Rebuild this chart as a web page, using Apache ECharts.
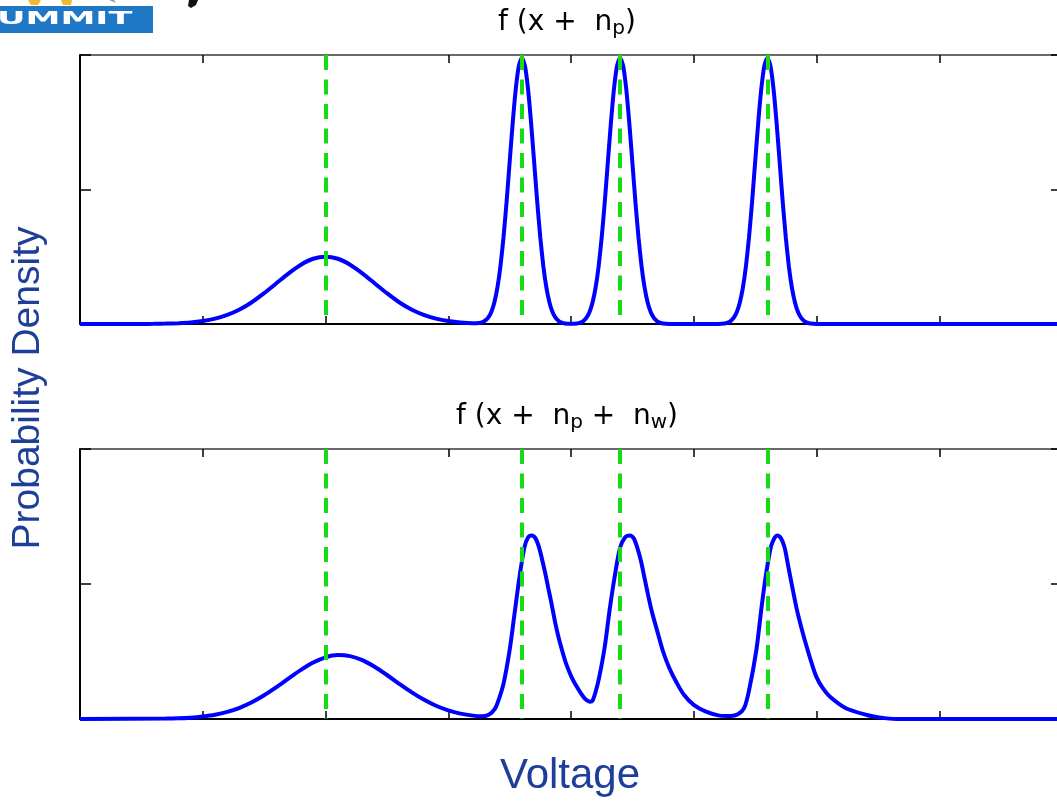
<!DOCTYPE html>
<html>
<head>
<meta charset="utf-8">
<title>Probability Density</title>
<script src="https://cdn.jsdelivr.net/npm/echarts@6/dist/echarts.min.js"></script>
<style>
  html, body { margin: 0; padding: 0; background: #ffffff; }
  #chart { width: 1057px; height: 802px; }
</style>
</head>
<body>
<div id="chart"></div>
<script>
// Density of the received voltage: clean levels (n_p only)
const cleanDensity = [
  [0, 0], [0.5, 0], [0.6, 0.001], [0.7, 0.003], [0.8, 0.006], [0.9, 0.011],
  [1.0, 0.022], [1.1, 0.040], [1.2, 0.068], [1.3, 0.108], [1.4, 0.162], [1.5, 0.229],
  [1.6, 0.303], [1.7, 0.377], [1.8, 0.441], [1.9, 0.485], [2.0, 0.500], [2.1, 0.485],
  [2.2, 0.441], [2.3, 0.377], [2.4, 0.303], [2.5, 0.229], [2.6, 0.162], [2.7, 0.108],
  [2.8, 0.068], [2.9, 0.040], [3.0, 0.022], [3.1, 0.011], [3.2, 0.006],
  [3.25, 0.008], [3.275, 0.013], [3.3, 0.025], [3.325, 0.047], [3.35, 0.088], [3.375, 0.158],
  [3.4, 0.268], [3.425, 0.428], [3.45, 0.643], [3.475, 0.906], [3.5, 1.201], [3.525, 1.494],
  [3.55, 1.747], [3.575, 1.919], [3.6, 1.98], [3.625, 1.919], [3.65, 1.747], [3.675, 1.494],
  [3.7, 1.201], [3.725, 0.906], [3.75, 0.643], [3.775, 0.428], [3.8, 0.268], [3.825, 0.158],
  [3.85, 0.087], [3.875, 0.045], [3.9, 0.022], [3.925, 0.010], [3.95, 0.004], [4.0, 0.001],
  [4.05, 0.004], [4.075, 0.010], [4.1, 0.022], [4.125, 0.045], [4.15, 0.087], [4.175, 0.158],
  [4.2, 0.268], [4.225, 0.428], [4.25, 0.643], [4.275, 0.906], [4.3, 1.201], [4.325, 1.494],
  [4.35, 1.747], [4.375, 1.919], [4.4, 1.98], [4.425, 1.919], [4.45, 1.747], [4.475, 1.494],
  [4.5, 1.201], [4.525, 0.906], [4.55, 0.643], [4.575, 0.428], [4.6, 0.268], [4.625, 0.158],
  [4.65, 0.087], [4.675, 0.045], [4.7, 0.022], [4.725, 0.010], [4.75, 0.004], [4.85, 0],
  [5.15, 0], [5.25, 0.004], [5.275, 0.010], [5.3, 0.022], [5.325, 0.045], [5.35, 0.087],
  [5.375, 0.158], [5.4, 0.268], [5.425, 0.428], [5.45, 0.643], [5.475, 0.906], [5.5, 1.201],
  [5.525, 1.494], [5.55, 1.747], [5.575, 1.919], [5.6, 1.98], [5.625, 1.919], [5.65, 1.747],
  [5.675, 1.494], [5.7, 1.201], [5.725, 0.906], [5.75, 0.643], [5.775, 0.428], [5.8, 0.268],
  [5.825, 0.158], [5.85, 0.087], [5.875, 0.045], [5.9, 0.022], [5.925, 0.010], [5.95, 0.004],
  [6.05, 0], [8, 0]
];

// Density with the additional skewed noise n_w
const noisyDensity = [
  [0, 0], [0.7, 0.003], [0.8, 0.005], [0.9, 0.010], [1.0, 0.019], [1.1, 0.032],
  [1.2, 0.053], [1.3, 0.083], [1.4, 0.124], [1.5, 0.176], [1.6, 0.236], [1.7, 0.301],
  [1.8, 0.364], [1.9, 0.418], [2.0, 0.457], [2.1, 0.474], [2.2, 0.466], [2.3, 0.436],
  [2.4, 0.387], [2.5, 0.326], [2.6, 0.261], [2.7, 0.199], [2.8, 0.144], [2.9, 0.098],
  [3.0, 0.064], [3.1, 0.040], [3.2, 0.025], [3.27, 0.020], [3.33, 0.032], [3.38, 0.075],
  [3.41, 0.14], [3.45, 0.26], [3.50, 0.51], [3.54, 0.78], [3.58, 1.05], [3.62, 1.27],
  [3.65, 1.345], [3.68, 1.36], [3.71, 1.34], [3.74, 1.27], [3.765, 1.18], [3.79, 1.08],
  [3.815, 0.97], [3.84, 0.86], [3.87, 0.72], [3.90, 0.60], [3.93, 0.50], [3.96, 0.41],
  [4.00, 0.32], [4.04, 0.25], [4.10, 0.165], [4.13, 0.138], [4.155, 0.128], [4.175, 0.136],
  [4.20, 0.20], [4.23, 0.31], [4.275, 0.535], [4.315, 0.81], [4.355, 1.05], [4.40, 1.27], [4.44, 1.345],
  [4.48, 1.36], [4.51, 1.34], [4.54, 1.27], [4.57, 1.17], [4.60, 1.04], [4.63, 0.91],
  [4.66, 0.79], [4.70, 0.66], [4.75, 0.50], [4.80, 0.38], [4.86, 0.27], [4.92, 0.18],
  [5.00, 0.105], [5.10, 0.054], [5.21, 0.025],
  [5.30, 0.022], [5.36, 0.035], [5.41, 0.08], [5.45, 0.21], [5.51, 0.51], [5.55, 0.81],
  [5.59, 1.08], [5.63, 1.28], [5.66, 1.345], [5.68, 1.36], [5.71, 1.34], [5.74, 1.27],
  [5.77, 1.13], [5.80, 0.99], [5.84, 0.81], [5.88, 0.665], [5.92, 0.535], [5.96, 0.415],
  [6.00, 0.31], [6.05, 0.23], [6.11, 0.165], [6.24, 0.08],
  [6.41, 0.03], [6.51, 0.012], [6.65, 0], [8, 0]
];

// Nominal signal levels (dashed markers)
const signalLevels = [2, 3.6, 4.4, 5.6];

// Axis ranges
const voltageRange = [0, 8];
const densityRange = [0, 2];

// Panel titles (rich text, subscripts in {s|...})
const panelTitles = ['f (x +  n{s|p})', 'f (x +  n{s|p} +  n{s|w})'];
const yAxisTitle = 'Probability Density';
const xAxisTitle = 'Voltage';

const chart = echarts.init(document.getElementById('chart'), null, { renderer: 'canvas' });

const BLUE = '#0000ff';
const GREEN = '#16dc16';
const LABEL_BLUE = '#1e3f99';

// the right border sits just past the page edge
const grids = [
  { left: 80, width: 982, top: 55, height: 269, outerBoundsMode: 'none', containLabel: false },
  { left: 80, width: 982, top: 449, height: 270, outerBoundsMode: 'none', containLabel: false }
];

function xAxisFor(gridIndex, position) {
  return {
    type: 'value', gridIndex, position,
    min: voltageRange[0], max: voltageRange[1], interval: 1,
    axisLine: { show: true, onZero: false, lineStyle: { color: position === 'top' ? '#3a3a3a' : '#000', width: position === 'top' ? 1.5 : 2 } },
    axisTick: { show: true, inside: true, length: 8, lineStyle: { color: '#000', width: 1.5 } },
    axisLabel: { show: false },
    splitLine: { show: false }
  };
}
function yAxisFor(gridIndex, position) {
  return {
    type: 'value', gridIndex, position,
    min: densityRange[0], max: densityRange[1], interval: 1,
    axisLine: { show: true, onZero: false, lineStyle: { color: '#000', width: 2 } },
    axisTick: { show: true, inside: true, length: 11, lineStyle: { color: '#000', width: 1.5 } },
    axisLabel: { show: false },
    splitLine: { show: false }
  };
}

function densitySeries(data, gridIdx, smooth) {
  return {
    type: 'line',
    xAxisIndex: gridIdx * 2,
    yAxisIndex: gridIdx * 2,
    data,
    smooth,
    showSymbol: false,
    silent: true,
    lineStyle: { color: BLUE, width: 4 },
    markLine: {
      silent: true,
      symbol: 'none',
      label: { show: false },
      lineStyle: { color: GREEN, width: 4, type: [15, 9.5], opacity: 1 },
      data: signalLevels.map(v => [
        { coord: [v, densityRange[1]] },
        { coord: [v, densityRange[0]] }
      ])
    },
    z: 3
  };
}

const titleStyle = {
  fontFamily: 'DejaVu Sans',
  fontSize: 28,
  lineHeight: 32,
  fill: '#000',
  align: 'center',
  verticalAlign: 'middle',
  rich: {
    s: { fontFamily: 'DejaVu Sans', fontSize: 20, lineHeight: 22, verticalAlign: 'bottom', fill: '#000' }
  }
};

chart.setOption({
  animation: false,
  backgroundColor: '#ffffff',
  grid: grids,
  xAxis: [xAxisFor(0, 'bottom'), xAxisFor(0, 'top'), xAxisFor(1, 'bottom'), xAxisFor(1, 'top')],
  yAxis: [yAxisFor(0, 'left'), yAxisFor(0, 'right'), yAxisFor(1, 'left'), yAxisFor(1, 'right')],
  series: [
    densitySeries(cleanDensity, 0, 0.2),
    densitySeries(noisyDensity, 1, 0.3)
  ],
  graphic: [
    // corner logo strip
    { type: 'rect', shape: { x: 0, y: 6, width: 153, height: 27 }, style: { fill: '#1f78c6' }, z: 10 },
    { type: 'text', x: -3, y: 19.5, scaleX: 1.95, scaleY: 1,
      style: { text: 'UMMIT', fontFamily: 'DejaVu Sans', fontWeight: 'bold', fontSize: 18, fill: '#ffffff', align: 'left', verticalAlign: 'middle' }, z: 11 },
    { type: 'polygon', shape: { points: [[28, 0], [41, 0], [38, 5], [31, 5]] }, style: { fill: '#f2b92c' }, z: 10 },
    { type: 'polygon', shape: { points: [[61, 0], [72, 0], [71, 5], [63, 5]] }, style: { fill: '#f2b92c' }, z: 10 },
    { type: 'polygon', shape: { points: [[109, 0], [114, 0], [116, 3]] }, style: { fill: '#9a9a9a' }, z: 10 },
    { type: 'polygon', shape: { points: [[189, 0], [198, 0], [196, 5], [191, 8], [188, 6]] }, style: { fill: '#111111' }, z: 10 },
    // panel titles
    { type: 'text', x: 567, y: 23, style: Object.assign({ text: panelTitles[0] }, titleStyle), z: 10 },
    { type: 'text', x: 567, y: 417, style: Object.assign({ text: panelTitles[1] }, titleStyle), z: 10 },
    // axis titles
    { type: 'text', x: 28, y: 388, rotation: Math.PI / 2,
      style: { text: yAxisTitle, fontFamily: 'Liberation Sans', fontSize: 39, fill: LABEL_BLUE, align: 'center', verticalAlign: 'middle' }, z: 10 },
    { type: 'text', x: 570, y: 776,
      style: { text: xAxisTitle, fontFamily: 'Liberation Sans', fontSize: 42, fill: LABEL_BLUE, align: 'center', verticalAlign: 'middle' }, z: 10 }
  ]
});
</script>
</body>
</html>
